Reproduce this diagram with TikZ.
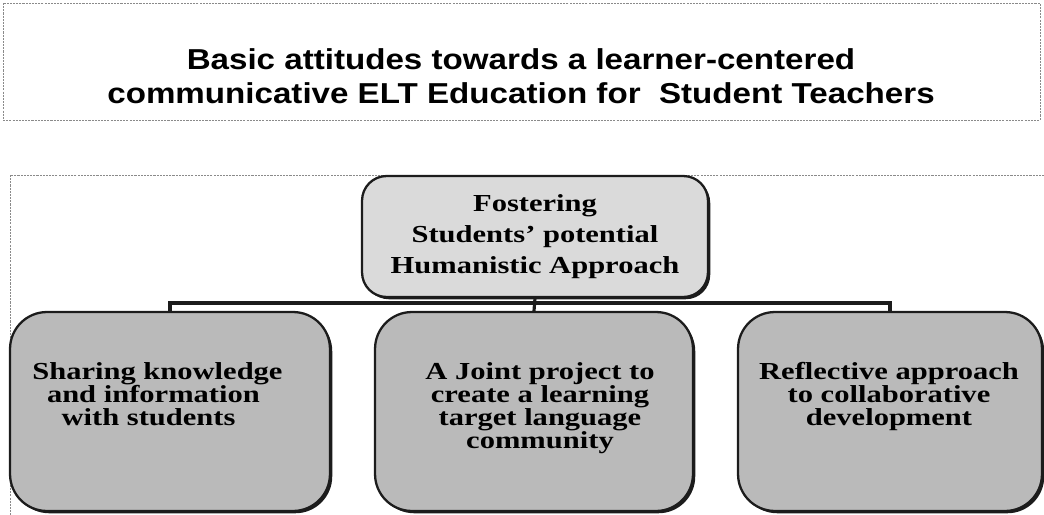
\documentclass[tikz,border=0pt]{standalone}
\usepackage{fontspec}
\setmainfont[FakeStretch=1.25]{Liberation Serif}
\setsansfont[FakeStretch=1.15]{Liberation Sans}
\usetikzlibrary{positioning,shadows}
\definecolor{cFrame}{HTML}{8A8A8A}
\definecolor{cEdge}{HTML}{1C1C1C}
\definecolor{cRoot}{HTML}{DADADA}
\definecolor{cLeaf}{HTML}{BABABA}
\tikzset{
  frame/.style ={draw=cFrame, line width=0.5pt, dash pattern=on 1.2pt off 0.6pt},
  heading/.style={font=\sffamily\bfseries\fontsize{16.4}{19.6}\selectfont, align=center, inner sep=0pt},
  root/.style  ={draw=cEdge, line width=1.3pt, rounded corners=14pt, fill=cRoot,
                 minimum width=6.92cm, minimum height=2.42cm, align=center, inner sep=0pt,
                 font=\bfseries\fontsize{13.9}{17.6}\selectfont,
                 drop shadow={shadow xshift=1.3pt, shadow yshift=-1.3pt, fill=cEdge, opacity=1}},
  leaf/.style  ={draw=cEdge, line width=1.3pt, rounded corners=21pt, fill=cLeaf,
                 minimum height=3.98cm, inner sep=0pt,
                 drop shadow={shadow xshift=1.3pt, shadow yshift=-1.3pt, fill=cEdge, opacity=1}},
  leaftext/.style={font=\bfseries\fontsize{13.9}{13.1}\selectfont, inner sep=0pt},
  link/.style  ={draw=cEdge, line width=1.8pt},
}
\begin{document}
\begin{tikzpicture}[x=0.02cm, y=-0.02cm]
  \useasboundingbox (0,0) rectangle (1044,514);
  \clip (0,0) rectangle (1044,514);

  % title panel
  \draw[frame] (3,3) rectangle (1040,120);
  \node[heading] (title) at (521,76) {Basic attitudes towards a learner-centered\\
    communicative ELT Education for~ Student Teachers};

  % outer frame of the chart
  \draw[frame] (1060,175) -- (10,175) -- (10,530);

  % boxes
  \node[root] (root) at (535,236.5) {Fostering\\Students' potential\\Humanistic Approach};
  \node[leaf, minimum width=6.40cm] (share) at (170,411.5) {};
  \node[leaf, minimum width=6.36cm] (joint) at (534,411.5) {};
  \node[leaf, minimum width=6.08cm] (refl)  at (890,411.5) {};

  % labels of the lower boxes
  \node[leaftext, align=left, anchor=north west] (shareT) at (32,362)
    {Sharing knowledge\\\hspace{0.6em}and information\\\hspace{1.2em}with students};
  \node[leaftext, align=center, anchor=north] (jointT) at (540,362)
    {A Joint project to\\create a learning\\target language\\community};
  \node[leaftext, align=center, anchor=north] (reflT) at (889,362)
    {Reflective approach\\to collaborative\\development};

  % connectors
  \coordinate (bar) at (0,303);
  \draw[link] (root.south) -- (joint.north);
  \draw[link] (share.north) |- (refl.north |- bar) -- (refl.north);
\end{tikzpicture}
\end{document}
